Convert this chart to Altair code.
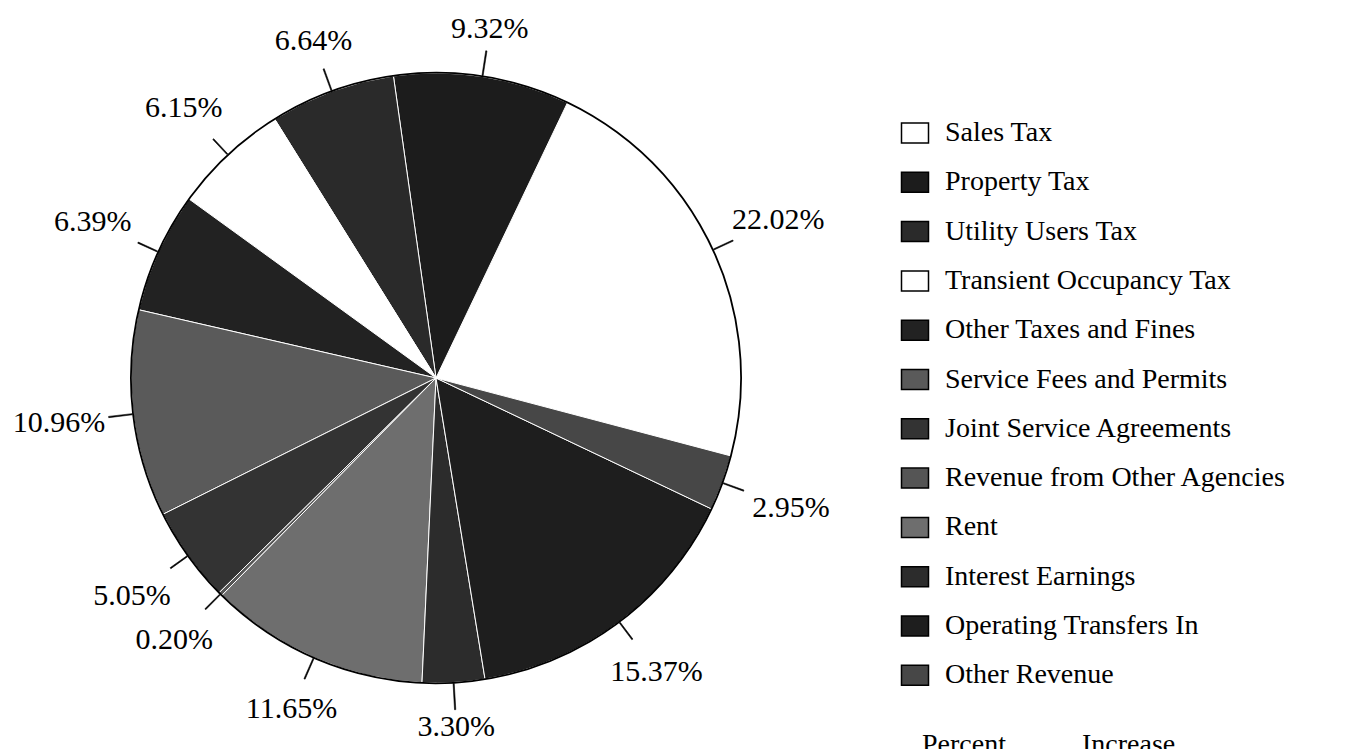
import math
import altair as alt
import pandas as pd

# ---- data (legend order; the pie runs counter-clockwise in this order) ----
categories = [
    "Sales Tax", "Property Tax", "Utility Users Tax", "Transient Occupancy Tax",
    "Other Taxes and Fines", "Service Fees and Permits", "Joint Service Agreements",
    "Revenue from Other Agencies", "Rent", "Interest Earnings",
    "Operating Transfers In", "Other Revenue",
]
percents = [22.02, 9.32, 6.64, 6.15, 6.39, 10.96, 5.05, 0.20, 11.65, 3.30, 15.37, 2.95]
fill_colors = [
    "#ffffff", "#1c1c1c", "#2a2a2a", "#ffffff", "#222222", "#5a5a5a",
    "#333333", "#555555", "#6e6e6e", "#2c2c2c", "#1e1e1e", "#474747",
]
footer_texts = ["Percent", "Increase"]

df = pd.DataFrame({
    "category": categories,
    "pct": percents,
    "idx": list(range(len(categories))),
    "label": [f"{p:.2f}%" for p in percents],
})

START = math.radians(104.8)
CX, CY, R = 428, 370, 305
FONT = "Liberation Serif"

theta_scale = alt.Scale(domain=[0, 100], range=[START, START - 2 * math.pi])

base = (
    alt.Chart(df)
    .transform_stack(stack="pct", groupby=[], as_=["s0", "s1"],
                     sort=[alt.SortField("idx", order="ascending")])
    .transform_calculate(mid="(datum.s0 + datum.s1) / 2")
    .transform_calculate(ang=f"{START} - datum.mid / 100 * 2 * PI")
    .transform_calculate(rlab="348 + 32 * abs(sin(datum.ang))")
    .transform_calculate(l0="datum.mid - 0.03")
    .transform_calculate(l1="datum.mid + 0.03")
    .transform_calculate(
        rlead="datum.rlab - 46 * abs(sin(datum.ang)) - 12 * abs(cos(datum.ang)) - 3")
)

center = dict(x=alt.value(CX), y=alt.value(CY))

arcs = base.mark_arc(radius=R, stroke="white", strokeWidth=1).encode(
    theta=alt.Theta("s0:Q", scale=theta_scale, stack=None),
    theta2="s1:Q",
    fill=alt.Fill(
        "category:N",
        scale=alt.Scale(domain=categories, range=fill_colors),
        sort=categories,
        legend=alt.Legend(
            title=None, orient="none", legendX=893, legendY=111,
            symbolType="M-1.35,-1H1.35V1H-1.35Z", symbolSize=400,
            symbolStrokeColor="black", symbolStrokeWidth=1.5, symbolOpacity=1,
            labelFont=FONT, labelFontSize=28, labelColor="black",
            rowPadding=21.3, labelOffset=16, labelLimit=500,
        ),
    ),
    **center,
)

outline = alt.Chart(pd.DataFrame({"a": [0.0], "b": [100.0]})).mark_arc(
    radius=R, fillOpacity=0, stroke="black", strokeWidth=1.8
).encode(
    theta=alt.Theta("a:Q", scale=theta_scale, stack=None),
    theta2="b:Q",
    **center,
)

leaders = base.mark_arc(radius2=R + 1, fill="black", stroke="black", strokeWidth=0.6).encode(
    theta=alt.Theta("l0:Q", scale=theta_scale, stack=None),
    theta2="l1:Q",
    radius=alt.Radius("rlead:Q", scale=None),
    **center,
)

labels = base.mark_text(font=FONT, fontSize=30, color="black").encode(
    theta=alt.Theta("mid:Q", scale=theta_scale, stack=None),
    radius=alt.Radius("rlab:Q", scale=None),
    text="label:N",
    **center,
)

foot1 = alt.Chart(pd.DataFrame({"t": [footer_texts[0]]})).mark_text(
    font=FONT, fontSize=28, align="left", baseline="alphabetic", color="black"
).encode(x=alt.value(914), y=alt.value(745), text="t:N")

foot2 = alt.Chart(pd.DataFrame({"t": [footer_texts[1]]})).mark_text(
    font=FONT, fontSize=28, align="left", baseline="alphabetic", color="black"
).encode(x=alt.value(1074), y=alt.value(745), text="t:N")

chart = (
    alt.layer(arcs, outline, leaders, labels, foot1, foot2)
    .properties(width=1339, height=741, padding=0,
                autosize=alt.AutoSizeParams(type="none"))
    .configure_view(strokeWidth=0)
)

chart.save("out.html", embed_options={"renderer": "svg", "actions": False})
